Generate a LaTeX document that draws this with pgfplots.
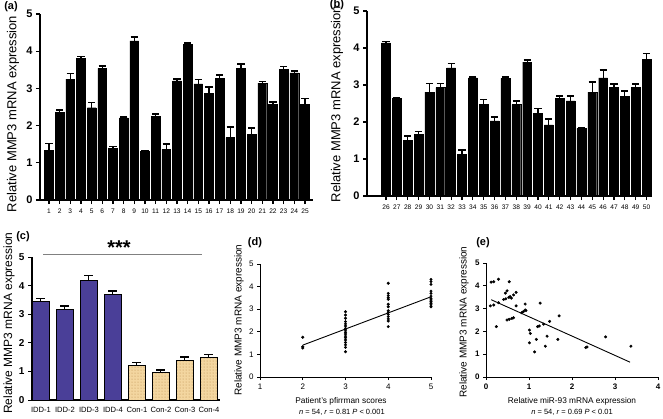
\documentclass[border=0pt]{standalone}
\usepackage{pgfplots}
\pgfplotsset{compat=1.18}
\usepackage{fontspec}
\setmainfont{Liberation Sans}
\usetikzlibrary{patterns}
\definecolor{iddblue}{HTML}{4A3F98}
\definecolor{contan}{HTML}{F3D6A0}
\definecolor{condot}{HTML}{B88A4A}
\pgfplotsset{
  panel/.style={scale only axis, axis lines*=left, axis line style={-},
    tick align=outside, tick pos=left,
    /pgf/number format/assume math mode=true, ymin=0, ymax=5, ytick={0,...,5},
    clip=false},
  barpanel/.style={panel, axis line style={-, line width=1.3pt},
    major tick length=4pt, tick style={line width=1.1pt, black},
    yticklabel style={font=\bfseries\fontsize{11}{11}\selectfont},
    xticklabel style={font=\fontsize{6.6}{7}\selectfont, yshift=-1pt}},
  blackbars/.style={ybar, fill=black, draw=black, bar width=0.82,
    error bars/.cd, y dir=plus, y explicit,
    error bar style={line width=1.2pt, black},
    error mark options={rotate=90, mark size=3.6pt, line width=1.6pt, black}},
}
\begin{document}
\begin{tikzpicture}[x=1pt,y=1pt]
\path[use as bounding box] (0,0) rectangle (663,418);

% (a)
\begin{axis}[barpanel, at={(40pt,218pt)}, anchor=south west, width=273pt, height=186pt,
  xmin=0.16, xmax=25.75, xtick={1,...,25}]
\addplot[blackbars] table[x=x, y=y, y error=e] {
x y e
1 1.34 0.18
2 2.35 0.07
3 3.25 0.15
4 3.81 0.05
5 2.48 0.14
6 3.54 0.06
7 1.39 0.05
8 2.21 0.02
9 4.28 0.10
10 1.30 0.02
11 2.24 0.07
12 1.37 0.13
13 3.20 0.05
14 4.18 0.04
15 3.12 0.12
16 2.87 0.17
17 3.27 0.09
18 1.68 0.28
19 3.54 0.11
20 1.77 0.16
21 3.14 0.05
22 2.58 0.05
23 3.52 0.07
24 3.42 0.04
25 2.58 0.15
};
\end{axis}

% (b)
\begin{axis}[barpanel, at={(367pt,222pt)}, anchor=south west, width=285pt, height=185pt,
  xmin=24.25, xmax=50.5, xtick={26,...,50}]
\addplot[blackbars] table[x=x, y=y, y error=e] {
x y e
26 4.14 0.04
27 2.63 0.02
28 1.51 0.11
29 1.66 0.08
30 2.81 0.23
31 2.93 0.11
32 3.46 0.12
33 1.12 0.12
34 3.19 0.03
35 2.48 0.13
36 2.03 0.11
37 3.18 0.03
38 2.47 0.10
39 3.62 0.06
40 2.23 0.13
41 1.92 0.16
42 2.63 0.08
43 2.57 0.13
44 1.83 0.02
45 2.81 0.27
46 3.19 0.21
47 2.93 0.09
48 2.70 0.14
49 2.93 0.09
50 3.69 0.16
};
\end{axis}

% (c)
\begin{axis}[panel, at={(32pt,18pt)}, anchor=south west, width=188pt, height=143pt,
  axis line style={-, line width=1.1pt},
  xmin=0.625, xmax=8.46, xtick={1,...,8},
  xticklabels={IDD-1,IDD-2,IDD-3,IDD-4,Con-1,Con-2,Con-3,Con-4},
  x tick style={draw=none},
  y tick style={line width=1pt, black}, major tick length=4pt,
  extra x ticks={4.5}, extra x tick labels={},
  extra x tick style={tick style={draw=black, line width=1pt}, major tick length=4pt},
  yticklabel style={font=\bfseries\fontsize{10}{10}\selectfont},
  xticklabel style={font=\fontsize{7.6}{7.6}\selectfont}]
\addplot[ybar, fill=iddblue, draw=black, line width=1pt, bar width=0.7,
  error bars/.cd, y dir=plus, y explicit,
  error bar style={line width=1pt, black},
  error mark options={rotate=90, mark size=4.5pt, line width=1.3pt, black}]
  table[x=x, y=y, y error=e] {
x y e
1 3.45 0.10
2 3.15 0.14
3 4.17 0.18
4 3.70 0.11
};
\addplot[ybar, fill=contan, draw=black, line width=1pt, bar width=0.7,
  postaction={pattern=dots, pattern color=condot},
  error bars/.cd, y dir=plus, y explicit,
  error bar style={line width=1pt, black},
  error mark options={rotate=90, mark size=4.5pt, line width=1.3pt, black}]
  table[x=x, y=y, y error=e] {
x y e
5 1.20 0.11
6 0.97 0.08
7 1.39 0.11
8 1.47 0.13
};
\end{axis}

% (d)
\begin{axis}[panel, at={(260pt,41pt)}, anchor=south west, width=171pt, height=113pt,
  axis line style={-, line width=0.9pt}, tick style={line width=0.8pt, black},
  major tick length=3pt,
  xmin=1, xmax=5, xtick={1,...,5},
  ticklabel style={font=\fontsize{8}{8}\selectfont}]
\addplot[only marks, mark=*, mark size=1.3pt, black] table {
2 1.76
2 1.34
2 1.28
3 2.89
3 2.74
3 2.60
3 2.45
3 2.35
3 2.26
3 2.15
3 2.08
3 1.98
3 1.90
3 1.81
3 1.74
3 1.64
3 1.53
3 1.42
3 1.31
3 1.12
4 4.15
4 3.70
4 3.60
4 3.51
4 3.44
4 3.22
4 3.11
4 2.93
4 2.86
4 2.77
4 2.67
4 2.57
4 2.48
4 2.23
5 4.32
5 4.22
5 4.10
5 3.80
5 3.70
5 3.58
5 3.48
5 3.41
5 3.33
5 3.26
5 3.19
5 3.11
};
\addplot[black, line width=0.9pt] coordinates {(2,1.41) (5,3.55)};
\end{axis}

% (e)
\begin{axis}[panel, at={(486pt,41pt)}, anchor=south west, width=172pt, height=114pt,
  axis line style={-, line width=0.9pt}, tick style={line width=0.8pt, black},
  major tick length=3pt,
  xmin=0, xmax=4, xtick={0,...,4},
  ticklabel style={font=\bfseries\fontsize{8}{8}\selectfont}]
\addplot[only marks, mark=*, mark size=1.3pt, black] table {
0.12 4.16
0.18 4.18
0.29 4.29
0.54 4.18
0.10 3.12
0.18 3.16
0.29 3.26
0.24 2.21
0.41 3.40
0.46 3.43
0.45 3.68
0.49 3.78
0.53 3.49
0.56 3.53
0.59 3.46
0.64 3.60
0.70 3.71
0.70 3.12
0.49 2.50
0.54 2.53
0.60 2.57
0.64 2.60
0.83 2.82
0.87 2.87
0.91 2.94
0.93 2.91
0.91 3.20
1.01 2.06
1.03 1.91
1.01 1.50
1.13 1.10
1.17 1.65
1.20 2.21
1.24 2.24
1.26 3.24
1.34 2.32
1.38 1.35
1.42 1.79
1.48 2.44
1.70 2.68
1.67 1.65
2.32 1.29
2.35 1.32
2.78 1.76
3.37 1.35
};
\addplot[black, line width=0.9pt] coordinates {(0.12,3.39) (3.35,0.65)};
\end{axis}

% text
\node[rotate=90, font=\fontsize{13}{13}\selectfont] at (13,304) {Relative MMP3 mRNA expression};
\node[rotate=90, font=\fontsize{13}{13}\selectfont] at (337,314) {Relative MMP3 mRNA expression};
\node[rotate=90, font=\fontsize{12}{12}\selectfont] at (9,95) {Relative MMP3 mRNA expression};
\node[rotate=90, font=\fontsize{10}{10}\selectfont] at (239,98) {Relative MMP3 mRNA expression};
\node[rotate=90, font=\fontsize{10}{10}\selectfont] at (464,96) {Relative MMP3 mRNA expression};

\node[font=\bfseries\fontsize{11}{11}\selectfont] at (11,411) {(a)};
\node[font=\bfseries\fontsize{11}{11}\selectfont] at (337,413) {(b)};
\node[font=\bfseries\fontsize{11}{11}\selectfont] at (23,181) {(c)};
\node[font=\bfseries\fontsize{11}{11}\selectfont] at (255,175) {(d)};
\node[font=\bfseries\fontsize{11}{11}\selectfont] at (483,175) {(e)};

\draw[gray, line width=1pt] (43,163.5) -- (202,163.5);
\node[font=\bfseries\fontsize{20}{20}\selectfont] at (119,170) {***};

\node[font=\fontsize{8.3}{8.3}\selectfont] at (341,17) {Patient's pfirrman scores};
\node[font=\fontsize{7.5}{7.5}\selectfont] at (342,6) {\textit{n} = 54, \textit{r} = 0.81 \textit{P} < 0.001};
\node[font=\fontsize{8.3}{8.3}\selectfont] at (572,17) {Relative miR-93 mRNA expression};
\node[font=\fontsize{7.5}{7.5}\selectfont] at (572,6) {\textit{n} = 54, \textit{r} = 0.69 \textit{P} < 0.01};
\end{tikzpicture}
\end{document}
